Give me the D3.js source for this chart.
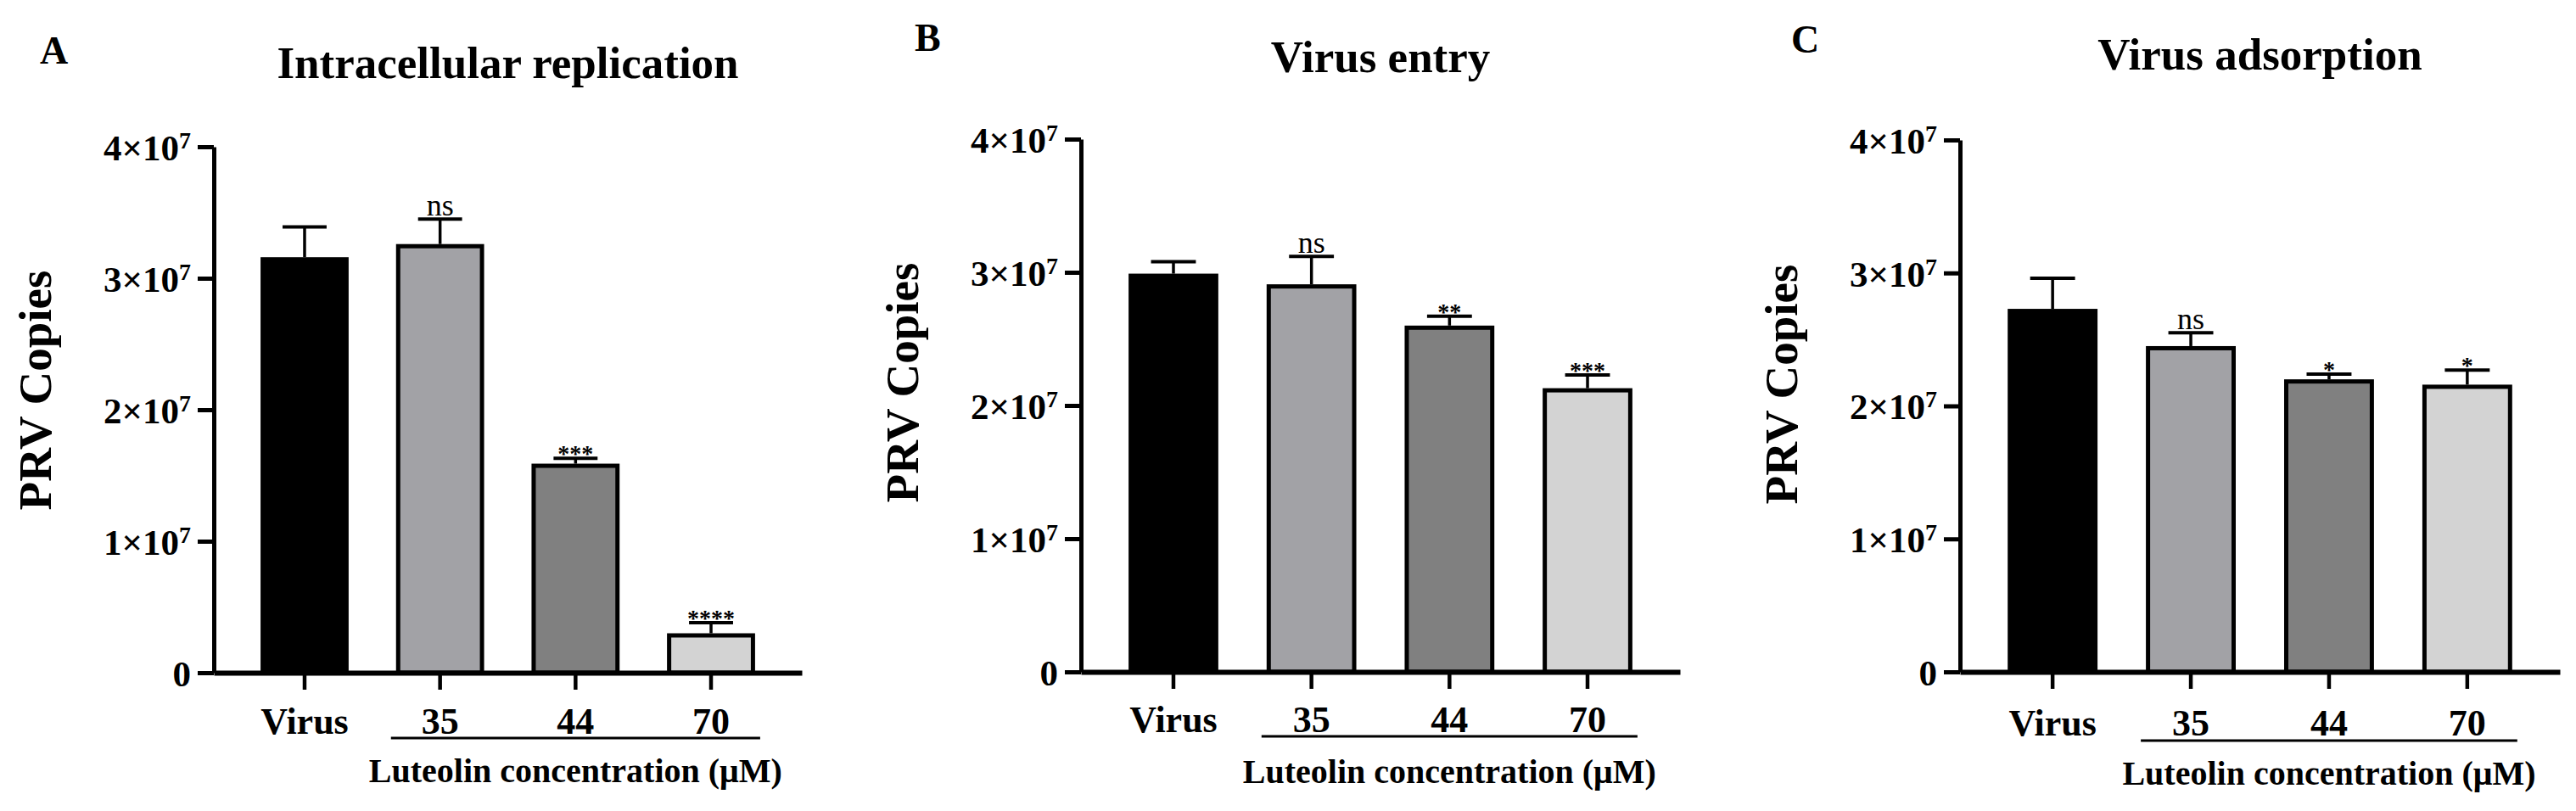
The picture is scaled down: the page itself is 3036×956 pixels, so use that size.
<!DOCTYPE html>
<html>
<head>
<meta charset="utf-8">
<script src="https://cdn.jsdelivr.net/npm/d3@7"></script>
<style>
  body { margin: 0; background: #fff; }
  text { font-family: "Liberation Serif", "Times New Roman", serif; fill: #000; }
</style>
</head>
<body>
<script>

// categories and labels
var categories = ["Virus", "35", "44", "70"];
var panelLetters = ["A", "B", "C"];
var panelTitles = ["Intracellular replication", "Virus entry", "Virus adsorption"];
var yAxisLabel = "PRV Copies";
var groupLabel = "Luteolin concentration (\u03bcM)";

// y ticks
var yTicks = [0, 1e7, 2e7, 3e7, 4e7];
var yTickBase = ["0", "1\u00d710", "2\u00d710", "3\u00d710", "4\u00d710"];
var yTickExp = ["", "7", "7", "7", "7"];

// series values (mean, error, significance)
var replicationMean = [3.16e7, 3.26e7, 1.59e7, 0.30e7];
var replicationErr = [0.23e7, 0.19e7, 0.04e7, 0.08e7];
var replicationSig = ["", "ns", "***", "****"];

var entryMean = [2.99e7, 2.91e7, 2.60e7, 2.13e7];
var entryErr = [0.09e7, 0.21e7, 0.07e7, 0.10e7];
var entrySig = ["", "ns", "**", "***"];

var adsorptionMean = [2.73e7, 2.45e7, 2.20e7, 2.16e7];
var adsorptionErr = [0.23e7, 0.10e7, 0.04e7, 0.11e7];
var adsorptionSig = ["", "ns", "*", "*"];

var barFills = ["#000000", "#a2a2a6", "#808080", "#d3d3d3"];

var panels = [
  {mean: replicationMean, err: replicationErr, sig: replicationSig},
  {mean: entryMean, err: entryErr, sig: entrySig},
  {mean: adsorptionMean, err: adsorptionErr, sig: adsorptionSig}
];

// where each panel sits on the page
var layout = [
  {axisX: 252, xEnd: 945, y0: 793, yTop: 173, letterX: 47, letterY: 75, titleY: 92,
   yLabelX: 60, yLabelY: 460, catY: 865, lineY: 870, groupY: 922},
  {axisX: 1274, xEnd: 1980, y0: 792, yTop: 164, letterX: 1078, letterY: 60, titleY: 85,
   yLabelX: 1082, yLabelY: 451, catY: 863, lineY: 868, groupY: 923},
  {axisX: 2310, xEnd: 3017, y0: 792, yTop: 165, letterX: 2111, letterY: 62, titleY: 82,
   yLabelX: 2118, yLabelY: 453, catY: 867, lineY: 873, groupY: 925}
];

var svg = d3.select("body").append("svg")
    .attr("width", 3036)
    .attr("height", 956);

svg.append("rect").attr("width", 3036).attr("height", 956).attr("fill", "#fff");

panels.forEach(function(p, i) {
  var L = layout[i];

  var x = d3.scaleBand()
      .domain(categories)
      .range([L.axisX, L.xEnd])
      .paddingInner(0.35)
      .paddingOuter(0.345);
  var y = d3.scaleLinear().domain([0, 4e7]).range([L.y0, L.yTop]);
  var bw = x.bandwidth();
  var cx = function(d) { return x(d.cat) + bw / 2; };

  var data = categories.map(function(c, j) {
    return {cat: c, mean: p.mean[j], err: p.err[j], sig: p.sig[j], fill: barFills[j]};
  });

  var g = svg.append("g");

  // error bars (upper only)
  var eb = g.selectAll(".err").data(data).enter().append("g").attr("class", "err");
  eb.append("line")
      .attr("x1", cx).attr("x2", cx)
      .attr("y1", function(d) { return y(d.mean); })
      .attr("y2", function(d) { return y(d.mean + d.err); })
      .attr("stroke", "#000").attr("stroke-width", 3.5);
  eb.append("line")
      .attr("x1", function(d) { return cx(d) - bw / 4; })
      .attr("x2", function(d) { return cx(d) + bw / 4; })
      .attr("y1", function(d) { return y(d.mean + d.err); })
      .attr("y2", function(d) { return y(d.mean + d.err); })
      .attr("stroke", "#000").attr("stroke-width", 4);

  // bars
  g.selectAll(".bar").data(data).enter().append("rect")
      .attr("class", "bar")
      .attr("x", function(d) { return x(d.cat) + 2.5; })
      .attr("width", bw - 5)
      .attr("y", function(d) { return y(d.mean) + 2.5; })
      .attr("height", function(d) { return L.y0 - y(d.mean) - 2.5; })
      .attr("fill", function(d) { return d.fill; })
      .attr("stroke", "#000")
      .attr("stroke-width", 5);

  // significance marks
  g.selectAll(".sig").data(data.filter(function(d) { return d.sig; })).enter().append("text")
      .attr("class", "sig")
      .attr("x", cx)
      .attr("y", function(d) {
        return y(d.mean + d.err) + (d.sig === "ns" ? -4 : 4);
      })
      .attr("text-anchor", "middle")
      .attr("font-size", function(d) { return d.sig === "ns" ? 36 : 28; })
      .attr("font-weight", function(d) { return d.sig === "ns" ? "normal" : "bold"; })
      .text(function(d) { return d.sig; });

  // y axis
  var yAxis = g.append("g")
      .attr("transform", "translate(" + L.axisX + ",0)")
      .call(d3.axisLeft(y).tickValues(yTicks).tickSize(19).tickSizeOuter(0).tickPadding(8).tickFormat(""));
  yAxis.select(".domain").attr("stroke-width", 5);
  yAxis.selectAll(".tick line").attr("stroke-width", 5);
  yAxis.selectAll(".tick text")
      .attr("font-family", "Liberation Serif, Times New Roman, serif")
      .attr("font-size", 43)
      .attr("font-weight", "bold")
      .attr("dy", "0.36em")
      .each(function(d, j) {
        var t = d3.select(this);
        t.text(yTickBase[j]);
        if (yTickExp[j]) {
          t.append("tspan").attr("dy", "-0.5em").attr("font-size", 28).text(yTickExp[j]);
        }
      });

  // x axis
  var xAxis = g.append("g")
      .attr("transform", "translate(0," + L.y0 + ")")
      .call(d3.axisBottom(x).tickSize(20).tickSizeOuter(0));
  xAxis.select(".domain").attr("stroke-width", 6);
  xAxis.selectAll(".tick line").attr("stroke-width", 4.5);
  xAxis.selectAll(".tick text")
      .attr("font-family", "Liberation Serif, Times New Roman, serif")
      .attr("font-size", 44)
      .attr("font-weight", "bold")
      .attr("y", L.catY - L.y0)
      .attr("dy", 0);

  // group underline and label
  var lx1 = x(categories[1]) - 6, lx2 = x(categories[3]) + bw + 6;
  g.append("line")
      .attr("x1", lx1).attr("x2", lx2)
      .attr("y1", L.lineY).attr("y2", L.lineY)
      .attr("stroke", "#000").attr("stroke-width", 3);
  g.append("text")
      .attr("x", (lx1 + lx2) / 2)
      .attr("y", L.groupY)
      .attr("text-anchor", "middle")
      .attr("font-size", 40)
      .attr("font-weight", "bold")
      .text(groupLabel);

  // y label
  g.append("text")
      .attr("transform", "translate(" + L.yLabelX + "," + L.yLabelY + ") rotate(-90)")
      .attr("text-anchor", "middle")
      .attr("font-size", 55)
      .attr("font-weight", "bold")
      .text(yAxisLabel);

  // title and panel letter
  g.append("text")
      .attr("x", (L.axisX + L.xEnd) / 2)
      .attr("y", L.titleY)
      .attr("text-anchor", "middle")
      .attr("font-size", 53)
      .attr("font-weight", "bold")
      .text(panelTitles[i]);
  g.append("text")
      .attr("x", L.letterX)
      .attr("y", L.letterY)
      .attr("font-size", 46)
      .attr("font-weight", "bold")
      .text(panelLetters[i]);
});

</script>
</body>
</html>
